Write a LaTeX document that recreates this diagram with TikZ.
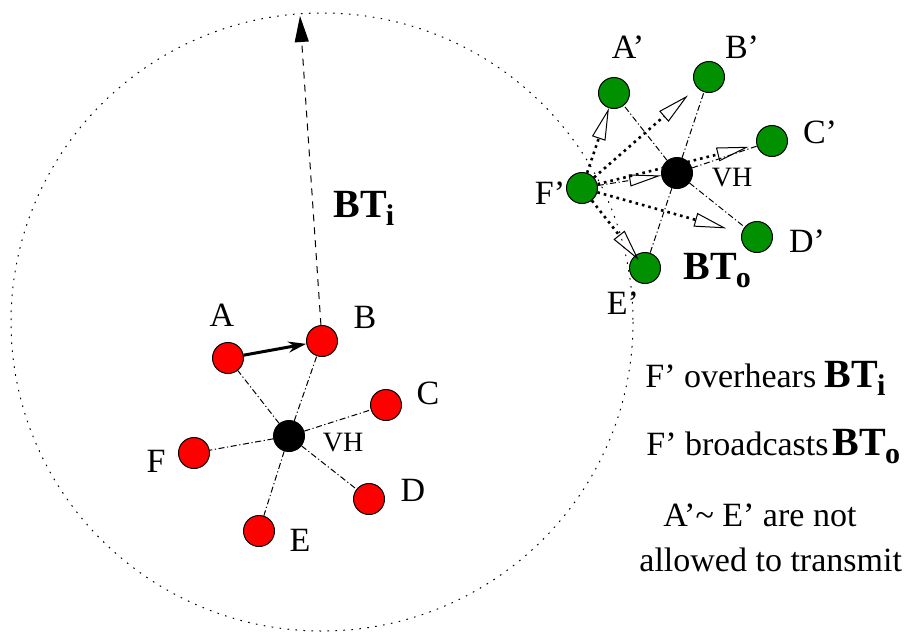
\documentclass[tikz,border=0pt]{standalone}
\usepackage{fontspec}
\setmainfont{Liberation Serif}
\usetikzlibrary{arrows.meta,backgrounds}

\definecolor{hostgreen}{RGB}{0,144,0}
\newcommand{\BTsub}[1]{\textbf{\fontsize{20}{22}\selectfont BT\kern-0.5pt\raisebox{-0.45ex}{\fontsize{15}{15}\selectfont #1}}}

\tikzset{
  host/.style={circle,draw,line width=0.5pt,minimum size=15.5pt,inner sep=0pt},
  redhost/.style={host,fill=red},
  greenhost/.style={host,fill=hostgreen},
  vhost/.style={host,fill=black},
  rangeline/.style={line width=0.5pt,dash pattern=on 0.8pt off 3.2pt},
  dashdot/.style={line width=0.5pt,dash pattern=on 3pt off 1.3pt on 0.6pt off 1.3pt},
  bcastline/.style={line width=0.5pt,dash pattern=on 3.5pt off 3pt,
    -{Triangle[length=13pt,width=7pt]}},
  overhear/.style={line width=1.3pt,dash pattern=on 1.3pt off 2pt,
    -{Triangle[open,length=16pt,width=7pt,line width=0.5pt]}},
  vhlabel/.style={font=\fontsize{14}{16}\selectfont}
}

\begin{document}
\begin{tikzpicture}[x=0.5pt,y=-0.5pt,font=\fontsize{17}{20}\selectfont]
\useasboundingbox (0,0) rectangle (915,632);

% transmission range of the sender
\draw[rangeline] (322,322) ellipse (311 and 309);

% cluster inside the range
\node[vhost] (vh) at (289,436) {};
\node[redhost] (a) at (228,358) {};
\node[redhost] (b) at (322,341) {};
\node[redhost] (c) at (386,405) {};
\node[redhost] (d) at (369,499) {};
\node[redhost] (e) at (259,531) {};
\node[redhost] (f) at (194,453) {};
\coordinate (top) at (300,16);

\node (la) at (222,315) {A};
\node (lb) at (365,317) {B};
\node (lc) at (428,393) {C};
\node (ld) at (413,490) {D};
\node (le) at (300,540) {E};
\node (lf) at (156,461) {F};
\node[vhlabel] (lvh) at (343,443) {VH};
\node[anchor=base west,inner sep=0pt] (bti) at (333,217) {\BTsub{i}};

\foreach \n in {a,b,c,d,e,f}
  \draw[dashdot] (vh) -- (\n);
\draw[line width=1.5pt,-{Stealth[length=9pt,width=5.5pt]}] (a) -- (b);
\draw[bcastline] (b) -- (top);

% cluster outside the range
\node[vhost] (vh2) at (677,173) {};
\node[greenhost] (a2) at (614,93) {};
\node[greenhost] (b2) at (709,77) {};
\node[greenhost] (c2) at (772,141) {};
\node[greenhost] (d2) at (757,237) {};
\node[greenhost] (e2) at (645,268) {};
\node[greenhost] (f2) at (582,188) {};

\node (la2) at (628,47) {A’};
\node (lb2) at (742,47) {B’};
\node (lc2) at (820,132) {C’};
\node (ld2) at (807,241) {D’};
\node (le2) at (623,303) {E’};
\node (lf2) at (550,193) {F’};
\node[vhlabel] (lvh2) at (732,178) {VH};
\node[anchor=base west,inner sep=0pt] (bto) at (683,279) {\BTsub{o}};

\foreach \n in {a2,b2,c2,d2,e2}
  \draw[dashdot] (vh2) -- (\n);
\draw[dashdot,-{Triangle[open,length=16pt,width=6pt]}] (f2) -- (vh2);
\draw[overhear] (f2) -- (a2);
\draw[overhear,shorten >=6pt] (f2) -- (b2);
\begin{scope}[on background layer]
\draw[overhear,shorten >=4pt] (f2) -- (c2);
\end{scope}
\draw[overhear,shorten >=8pt] (f2) -- (d2);
\draw[overhear,shorten >=-3pt] (f2) -- (e2);

% notes
\node[anchor=base west,inner sep=0pt] (note1) at (645,387) {F’ overhears \BTsub{i}};
\node[anchor=base west,inner sep=0pt] (note2) at (646,455) {F’ broadcasts\kern2pt\BTsub{o}};
\node[anchor=base west,inner sep=0pt] (note3) at (663,526) {A’\textasciitilde{} E’ are not};
\node[anchor=base west,inner sep=0pt] (note4) at (639,571) {allowed to transmit};

\end{tikzpicture}
\end{document}
